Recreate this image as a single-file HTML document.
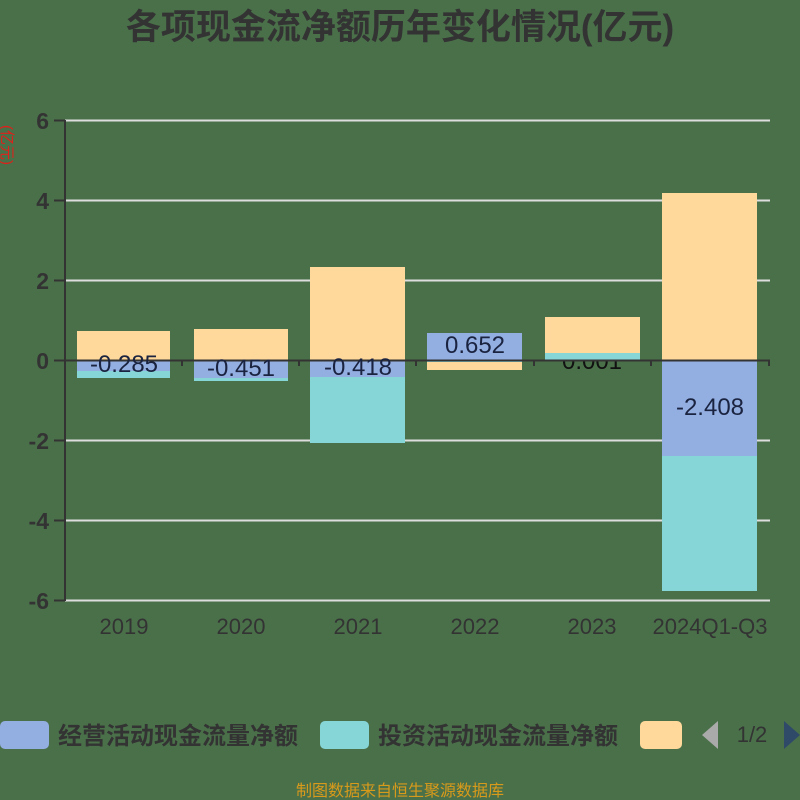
<!DOCTYPE html>
<html><head><meta charset="utf-8"><style>
body{margin:0;background:#4a704a;}
svg{display:block;font-family:"Liberation Sans","Noto Sans CJK SC",sans-serif;}
</style></head><body>
<svg width="800" height="800" viewBox="0 0 800 800">
<rect width="800" height="800" fill="#4a704a"/>
<text x="400" y="39" text-anchor="middle" font-size="35" font-weight="bold" fill="#333">各项现金流净额历年变化情况(亿元)</text>
<text transform="translate(2,145) rotate(90)" font-size="15" fill="#e0201a" text-anchor="middle">(亿元)</text>
<g stroke="#ddd" stroke-width="2">
<line x1="65" y1="120.5" x2="770" y2="120.5"/>
<line x1="65" y1="200.5" x2="770" y2="200.5"/>
<line x1="65" y1="280.5" x2="770" y2="280.5"/>
<line x1="65" y1="440.5" x2="770" y2="440.5"/>
<line x1="65" y1="520.5" x2="770" y2="520.5"/>
<line x1="65" y1="600.5" x2="770" y2="600.5"/>
</g>
<g font-size="23" font-weight="bold" fill="#333" text-anchor="end">
<text x="49" y="129">6</text><text x="49" y="209">4</text><text x="49" y="289">2</text><text x="49" y="369">0</text><text x="49" y="449">-2</text><text x="49" y="529">-4</text><text x="49" y="609">-6</text>
</g>
<g stroke="#333" stroke-width="2">
<line x1="54" y1="120.5" x2="65" y2="120.5"/><line x1="54" y1="200.5" x2="65" y2="200.5"/><line x1="54" y1="280.5" x2="65" y2="280.5"/><line x1="54" y1="360.5" x2="65" y2="360.5"/><line x1="54" y1="440.5" x2="65" y2="440.5"/><line x1="54" y1="520.5" x2="65" y2="520.5"/><line x1="54" y1="600.5" x2="65" y2="600.5"/>
</g>
<text x="592" y="369" font-size="24" fill="#111" text-anchor="middle">0.001</text>
<g>
<rect x="77" y="331" width="93" height="29" fill="#ffd89b"/>
<rect x="77" y="360" width="93" height="11" fill="#93aee0"/>
<rect x="77" y="371" width="93" height="7" fill="#86d6d8"/>
<rect x="194" y="329" width="94" height="31" fill="#ffd89b"/>
<rect x="194" y="360" width="94" height="18" fill="#93aee0"/>
<rect x="194" y="378" width="94" height="3" fill="#86d6d8"/>
<rect x="310" y="267" width="95" height="93" fill="#ffd89b"/>
<rect x="310" y="360" width="95" height="17" fill="#93aee0"/>
<rect x="310" y="377" width="95" height="66" fill="#86d6d8"/>
<rect x="427" y="333" width="95" height="27" fill="#93aee0"/>
<rect x="427" y="360" width="95" height="2" fill="#86d6d8"/>
<rect x="427" y="362" width="95" height="8" fill="#ffd89b"/>
<rect x="545" y="317" width="95" height="36" fill="#ffd89b"/>
<rect x="545" y="353" width="95" height="7" fill="#86d6d8"/>
<rect x="662" y="193" width="95" height="167" fill="#ffd89b"/>
<rect x="662" y="360" width="95" height="96" fill="#93aee0"/>
<rect x="662" y="456" width="95" height="135" fill="#86d6d8"/>
</g>
<g stroke="#333" stroke-width="2">
<line x1="65" y1="360.5" x2="770" y2="360.5"/>
<line x1="65" y1="120" x2="65" y2="601"/>
<line x1="182" y1="360" x2="182" y2="366"/><line x1="299" y1="360" x2="299" y2="366"/><line x1="416" y1="360" x2="416" y2="366"/><line x1="534" y1="360" x2="534" y2="366"/><line x1="651" y1="360" x2="651" y2="366"/><line x1="769" y1="360" x2="769" y2="366"/>
</g>
<g font-size="24" fill="#1a2340" text-anchor="middle">
<text x="124" y="372">-0.285</text>
<text x="241" y="376">-0.451</text>
<text x="358" y="375">-0.418</text>
<text x="475" y="353">0.652</text>
<text x="710" y="415">-2.408</text>
</g>
<g font-size="22" fill="#333" text-anchor="middle">
<text x="124" y="634">2019</text><text x="241" y="634">2020</text><text x="358" y="634">2021</text><text x="475" y="634">2022</text><text x="592" y="634">2023</text><text x="710" y="634">2024Q1-Q3</text>
</g>
<rect x="0" y="721" width="49" height="28" rx="5" fill="#93aee0"/>
<text x="58" y="744" font-size="24" font-weight="bold" fill="#333">经营活动现金流量净额</text>
<rect x="320" y="721" width="49" height="28" rx="5" fill="#86d6d8"/>
<text x="378" y="744" font-size="24" font-weight="bold" fill="#333">投资活动现金流量净额</text>
<rect x="640" y="721" width="42" height="28" rx="5" fill="#ffd89b"/>
<polygon points="702,735 718,721 718,749" fill="#aaa"/>
<text x="752" y="742" font-size="22" fill="#333" text-anchor="middle">1/2</text>
<polygon points="800,735 784,721 784,749" fill="#2f4a68"/>
<text x="400" y="796" font-size="16" fill="#d89a1a" text-anchor="middle">制图数据来自恒生聚源数据库</text>
</svg>
</body></html>
